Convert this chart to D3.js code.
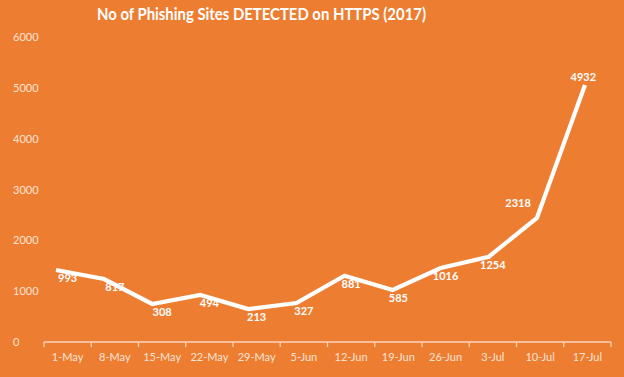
<!DOCTYPE html>
<html>
<head>
<meta charset="utf-8">
<title>No of Phishing Sites DETECTED on HTTPS (2017)</title>
<script src="https://d3js.org/d3.v7.min.js"></script>
<style>
  html, body { margin: 0; padding: 0; background: #ED7D31; }
  svg { display: block; }
</style>
</head>
<body>
<div id="chart"></div>
<script>
// data
var categories = ['1-May', '8-May', '15-May', '22-May', '29-May', '5-Jun',
                  '12-Jun', '19-Jun', '26-Jun', '3-Jul', '10-Jul', '17-Jul'];
// where the white line actually sits
var lineValues = [1416, 1239, 748, 925, 649, 767, 1304, 1023, 1456, 1678, 2440, 5056];
// the numbers printed next to it
var labelTexts = [993, 817, 308, 494, 213, 327, 881, 585, 1016, 1254, 2318, 4932];
var labelPlacement = ['below', 'below', 'below', 'below', 'below', 'below',
                      'below', 'below', 'below', 'below', 'aboveLeft', 'above'];
var yTicks = [0, 1000, 2000, 3000, 4000, 5000, 6000];

var W = 624, H = 377;
var font = 'Lato, "Open Sans", sans-serif';
var textCol = '#FCE4D6';

var svg = d3.select('#chart').append('svg')
    .attr('width', W).attr('height', H);

svg.append('rect').attr('width', W).attr('height', H).attr('fill', '#ED7D31');

var y = d3.scaleLinear().domain([0, 6000]).range([342, 37]);
var x = d3.scaleBand().domain(categories).range([44, 611]).padding(0);
var xl = d3.scalePoint().domain(categories).range([56, 585]);

// title, held to the width it has in the picture
svg.append('text')
    .attr('x', 97).attr('y', 20)
    .attr('textLength', 329).attr('lengthAdjust', 'spacingAndGlyphs')
    .style('font-family', font).style('font-weight', 700)
    .style('font-size', '17px').attr('fill', '#fff')
    .text('No of Phishing Sites DETECTED on HTTPS (2017)');

// y labels
svg.append('g').selectAll('text')
  .data(yTicks)
  .enter().append('text')
    .attr('x', 13)
    .attr('y', function(d) { return y(d) + 4; })
    .style('font-family', font).style('font-size', '11px')
    .attr('fill', textCol)
    .text(function(d) { return d; });

// x axis line + boundary ticks
var axisG = svg.append('g');
axisG.append('line')
    .attr('x1', x.range()[0]).attr('x2', x.range()[1])
    .attr('y1', y(0)).attr('y2', y(0))
    .attr('stroke', '#F9D5BC').attr('stroke-width', 1.3);
axisG.selectAll('line.tick')
  .data(d3.range(categories.length + 1))
  .enter().append('line')
    .attr('class', 'tick')
    .attr('x1', function(i) { return x.range()[0] + i * x.step(); })
    .attr('x2', function(i) { return x.range()[0] + i * x.step(); })
    .attr('y1', y(0)).attr('y2', y(0) + 5)
    .attr('stroke', '#F9D5BC').attr('stroke-width', 1.3);

axisG.selectAll('text')
  .data(categories)
  .enter().append('text')
    .attr('x', function(d) { return x(d) + x.bandwidth() / 2; })
    .attr('y', 361)
    .attr('text-anchor', 'middle')
    .style('font-family', font).style('font-size', '11px')
    .attr('fill', textCol)
    .text(function(d) { return d; });

// the line
var line = d3.line()
    .x(function(d, i) { return xl(categories[i]); })
    .y(function(d) { return y(d); });

svg.append('path')
    .datum(lineValues)
    .attr('d', line)
    .attr('fill', 'none')
    .attr('stroke', '#fff')
    .attr('stroke-width', 4.2)
    .attr('stroke-linejoin', 'miter');

// data labels
svg.append('g').selectAll('text')
  .data(labelTexts)
  .enter().append('text')
    .attr('x', function(d, i) {
        var cx = x(categories[i]) + x.bandwidth() / 2;
        if (labelPlacement[i] == 'aboveLeft') return cx - 22;
        if (labelPlacement[i] == 'above') return cx - 4;
        return cx;
    })
    .attr('y', function(d, i) {
        var py = y(lineValues[i]);
        if (labelPlacement[i] == 'aboveLeft') return py - 11;
        if (labelPlacement[i] == 'above') return py - 4;
        return py + 12;
    })
    .attr('text-anchor', 'middle')
    .style('font-family', font).style('font-weight', 700)
    .style('font-size', '11px')
    .attr('fill', '#fff')
    .text(function(d) { return d; });
</script>
</body>
</html>
